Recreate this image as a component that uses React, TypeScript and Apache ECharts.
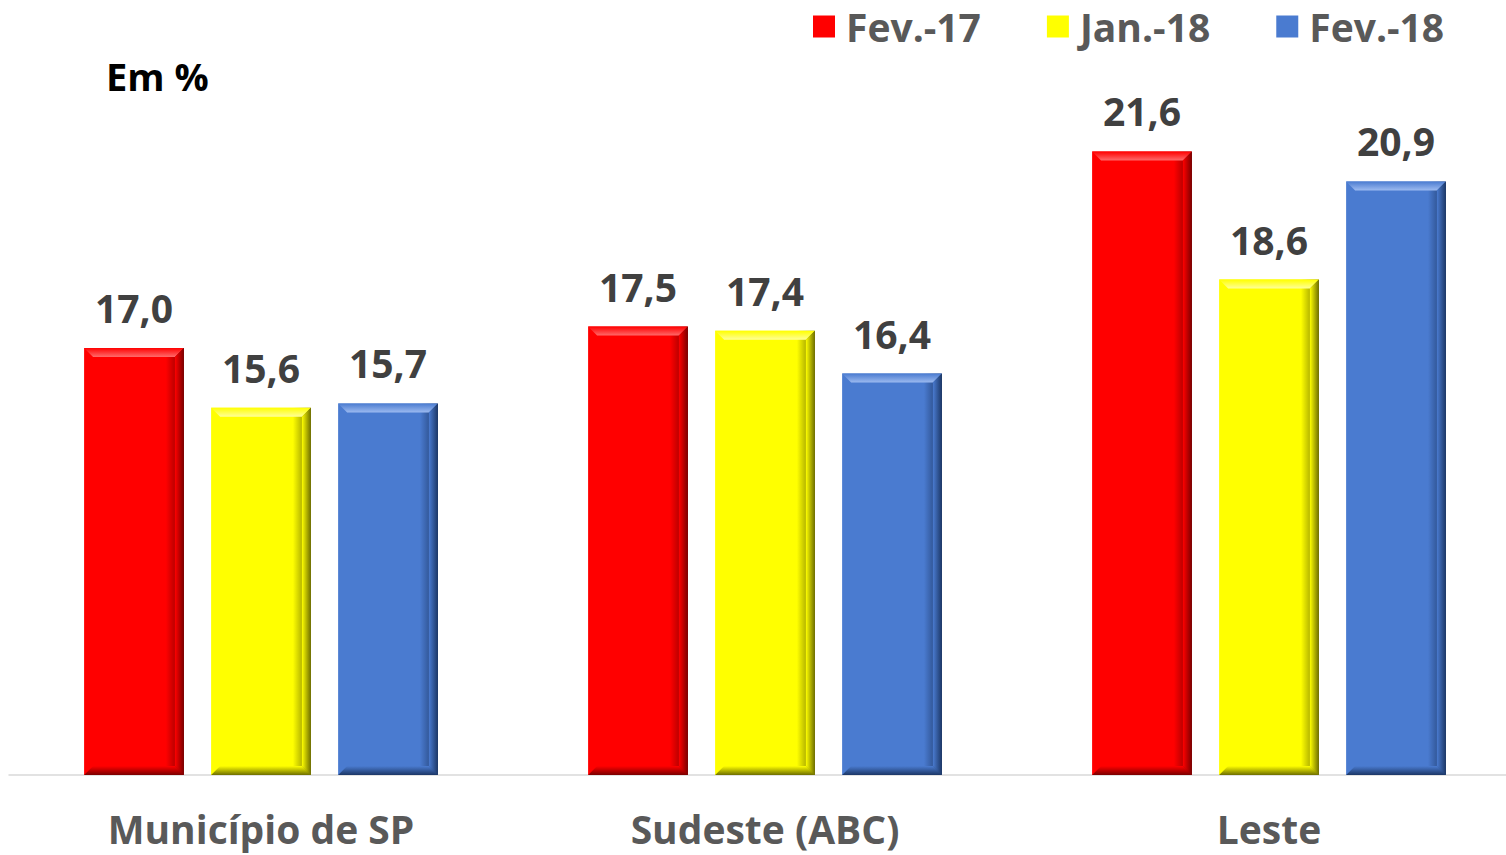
import React, { useEffect, useRef } from "react";
import * as echarts from "echarts";

const categories = ["Município de SP", "Sudeste (ABC)", "Leste"];
const seriesNames = ["Fev.-17", "Jan.-18", "Fev.-18"];
const fev17 = [17.0, 17.5, 21.6];
const jan18 = [15.6, 17.4, 18.6];
const fev18 = [15.7, 16.4, 20.9];
const unitLabel = "Em %";

const palette = [
  { base: "#ff0000", light: "#ff6a6a", dark: "#7a0000" },
  { base: "#ffff00", light: "#ffff9a", dark: "#6e6e00" },
  { base: "#4a7bd0", light: "#9cbaf0", dark: "#1c3766" },
];

const FONT = "'Open Sans', 'Noto Sans', sans-serif";

function fmt(v: number) {
  return v.toFixed(1).replace(".", ",");
}

function makeRender(si: number) {
  return (params: any, api: any) => {
    const cat = api.value(0);
    const val = api.value(1);
    const top = api.coord([cat, val]);
    const bottom = api.coord([cat, 7]);
    const band = api.size([1, 0])[0];
    const bw = band * 0.198;
    const step = band * 0.252;
    const cx = top[0] + (si - 1) * step;
    const x0 = cx - bw / 2;
    const x1 = cx + bw / 2;
    const y0 = top[1];
    const y1 = bottom[1];
    const b = 9;
    const c = palette[si];
    return {
      type: "group",
      children: [
        {
          type: "rect",
          shape: { x: x0, y: y0, width: x1 - x0, height: y1 - y0 },
          style: {
            fill: new echarts.graphic.LinearGradient(0, 0, 1, 0, [
              { offset: 0, color: c.base },
              { offset: 0.82, color: c.base },
              { offset: 1, color: c.dark },
            ]),
          },
        },
        {
          type: "polygon",
          shape: { points: [[x0, y0], [x1, y0], [x1 - b, y0 + b], [x0 + b, y0 + b]] },
          style: {
            fill: new echarts.graphic.LinearGradient(0, 0, 0, 1, [
              { offset: 0, color: c.base },
              { offset: 1, color: c.light },
            ]),
          },
        },
        {
          type: "polygon",
          shape: { points: [[x1, y0], [x1, y1], [x1 - b, y1 - b], [x1 - b, y0 + b]] },
          style: {
            fill: new echarts.graphic.LinearGradient(0, 0, 1, 0, [
              { offset: 0, color: c.base },
              { offset: 1, color: c.dark },
            ]),
          },
        },
        {
          type: "polygon",
          shape: { points: [[x0, y1], [x1, y1], [x1 - b, y1 - b], [x0 + b, y1 - b]] },
          style: {
            fill: new echarts.graphic.LinearGradient(0, 0, 0, 1, [
              { offset: 0, color: c.base },
              { offset: 1, color: c.dark },
            ]),
          },
        },
        {
          type: "text",
          style: {
            x: cx,
            y: y0 - 21,
            text: fmt(val),
            fill: "#404040",
            font: `bold 39px ${FONT}`,
            align: "center",
            verticalAlign: "bottom",
          },
        },
      ],
    };
  };
}

export default function App() {
  const ref = useRef<HTMLDivElement>(null);
  useEffect(() => {
    if (!ref.current) return;
    const chart = echarts.init(ref.current, null, { renderer: "svg" });
    const data = [fev17, jan18, fev18];
    chart.setOption({
      animation: false,
      backgroundColor: "#ffffff",
      grid: { left: 9, right: 0, top: 49, bottom: 80, containLabel: false },
      legend: {
        top: 2,
        left: 808,
        itemWidth: 22,
        itemHeight: 22,
        itemGap: 66,
        icon: "rect",
        textStyle: { fontFamily: FONT, fontSize: 39, fontWeight: "bold", color: "#595959", padding: [0, 0, 0, 6] },
        data: seriesNames,
      },
      graphic: [
        {
          type: "text",
          left: 106,
          top: 57,
          style: { text: unitLabel, font: `bold 38px ${FONT}`, fill: "#000000" },
        },
      ],
      xAxis: {
        type: "category",
        data: categories,
        axisLine: { show: true, lineStyle: { color: "#d9d9d9", width: 1.5 } },
        axisTick: { show: false },
        axisLabel: { fontFamily: FONT, fontSize: 39, fontWeight: "bold", color: "#595959", margin: 34 },
      },
      yAxis: {
        type: "value",
        min: 7,
        max: 24,
        show: false,
        splitLine: { show: false },
      },
      series: data.map((d, si) => ({
        name: seriesNames[si],
        type: "custom",
        itemStyle: { color: palette[si].base },
        renderItem: makeRender(si),
        encode: { x: 0, y: 1 },
        data: d.map((v, i) => [i, v]),
      })),
    });
    return () => chart.dispose();
  }, []);
  return (
    <div
      ref={ref}
      style={{ position: "fixed", left: 0, top: 0, width: 1521, height: 855 }}
    />
  );
}
